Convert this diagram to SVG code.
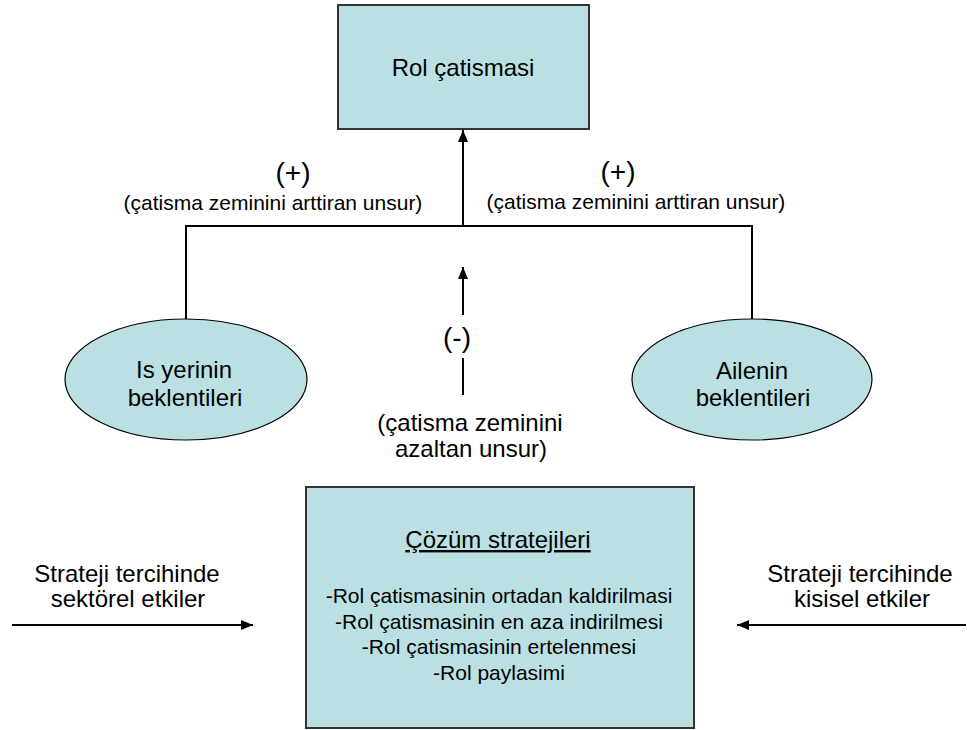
<svg xmlns="http://www.w3.org/2000/svg" width="967" height="730" viewBox="0 0 967 730">
<style>
text{font-family:"Liberation Sans",Arial,sans-serif;fill:#000;text-anchor:middle}
.box{fill:#BBE0E3;stroke:#333;stroke-width:2}
.ell{fill:#BBE0E3;stroke:#000;stroke-width:1.2}
.c{stroke:#000;stroke-width:2;fill:none}
.t28{font-size:28px}
.t24{font-size:24px}
.t21{font-size:21px}
</style>
<defs>
<marker id="ah" markerUnits="userSpaceOnUse" markerWidth="13" markerHeight="11" refX="12" refY="5" orient="auto">
<path d="M0,0 L12,5 L0,10 z" fill="#000"/>
</marker>
</defs>
<rect width="967" height="730" fill="#fff"/>
<g id="rol-catismasi">
<rect class="box" x="338" y="5" width="251" height="124"/>
<text class="t24" x="463" y="76">Rol çatismasi</text>
</g>
<g id="is-yerinin">
<ellipse class="ell" cx="186" cy="379.5" rx="121" ry="60.5"/>
<text class="t24" x="184" y="378">Is yerinin</text>
<text class="t24" x="185" y="406">beklentileri</text>
</g>
<g id="ailenin">
<ellipse class="ell" cx="752" cy="379.5" rx="120" ry="60.5"/>
<text class="t24" x="752" y="379">Ailenin</text>
<text class="t24" x="753" y="406">beklentileri</text>
</g>
<g id="cozum">
<rect class="box" x="306" y="487" width="388" height="241"/>
<text class="t24" x="498" y="548" text-decoration="underline">Çözüm stratejileri</text>
<text class="t21" x="499" y="603">-Rol çatismasinin ortadan kaldirilmasi</text>
<text class="t21" x="499" y="628.5">-Rol çatismasinin en aza indirilmesi</text>
<text class="t21" x="499" y="654">-Rol çatismasinin ertelenmesi</text>
<text class="t21" x="499" y="680">-Rol paylasimi</text>
</g>
<g id="labels">
<text class="t28" x="293" y="182">(+)</text>
<text class="t21" x="273" y="210">(çatisma zeminini arttiran unsur)</text>
<text class="t28" x="618" y="181">(+)</text>
<text class="t21" x="636" y="209">(çatisma zeminini arttiran unsur)</text>
<text class="t28" x="457" y="347">(-)</text>
<text class="t24" x="470" y="431">(çatisma zeminini</text>
<text class="t24" x="471" y="457">azaltan unsur)</text>
<text class="t24" x="127" y="582">Strateji tercihinde</text>
<text class="t24" x="128" y="607">sektörel etkiler</text>
<text class="t24" x="860" y="582">Strateji tercihinde</text>
<text class="t24" x="862" y="607">kisisel etkiler</text>
</g>
<g id="connectors">
<polyline class="c" points="186,319 186,226 752,226 752,319"/>
<line class="c" x1="463" y1="226" x2="463" y2="130" marker-end="url(#ah)"/>
<line class="c" x1="463" y1="315" x2="463" y2="267" marker-end="url(#ah)"/>
<line class="c" x1="463" y1="358" x2="463" y2="395"/>
<line class="c" x1="12" y1="625" x2="253" y2="625" marker-end="url(#ah)"/>
<line class="c" x1="966" y1="625" x2="737" y2="625" marker-end="url(#ah)"/>
</g>
</svg>
